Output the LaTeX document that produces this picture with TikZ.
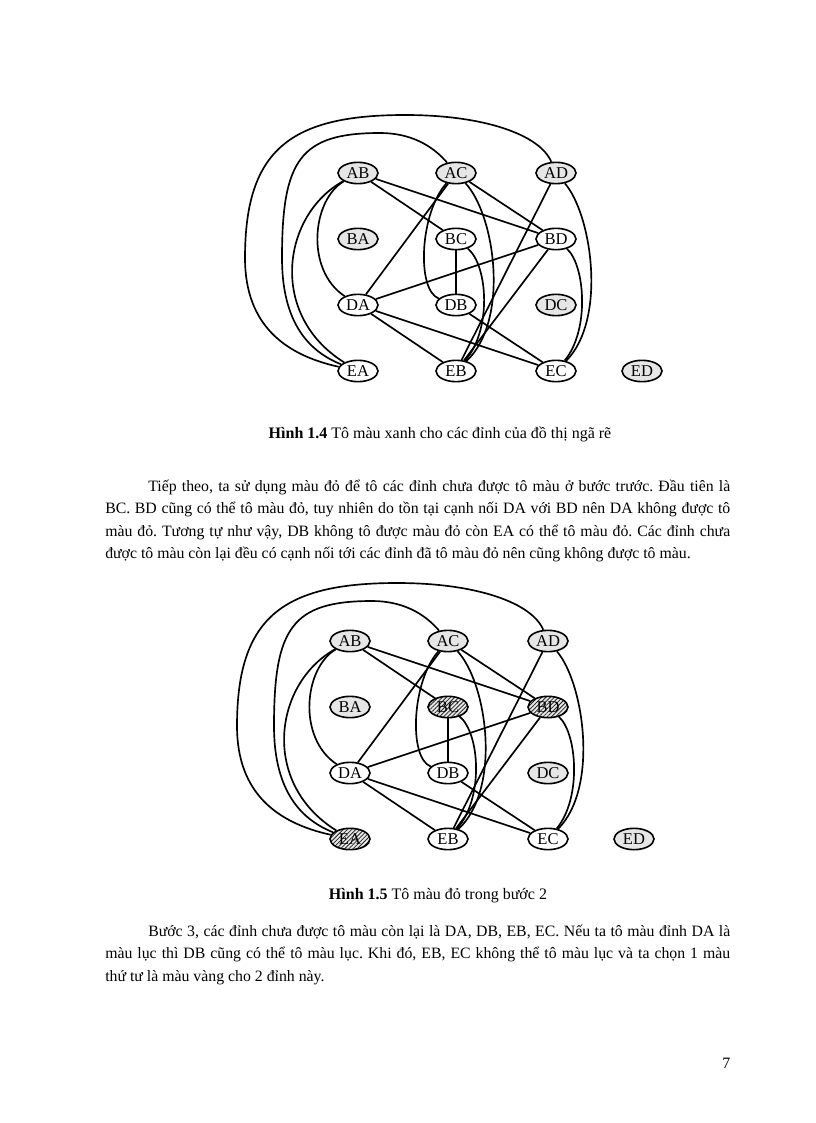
\documentclass[tikz,border=0pt]{standalone}
\usepackage{fontspec}
\setmainfont{Liberation Serif}
\usetikzlibrary{shapes.geometric,patterns.meta}
\definecolor{nodegray}{RGB}{230,230,230}
\frenchspacing
\tikzset{
  vbase/.style={ellipse, draw=black, line width=1.2pt, minimum width=30pt, minimum height=16pt, inner sep=0pt, font=\fontsize{12.4pt}{14pt}\selectfont},
  wvtx/.style={vbase, fill=white},
  gvtx/.style={vbase, fill=nodegray},
  hvtx/.style={vbase, preaction={fill=nodegray}, pattern={Lines[angle=45,distance=2.2pt,line width=0.6pt]}, pattern color=black!85},
  edge/.style={line width=1.25pt, draw=black},
  bodytxt/.style={inner sep=0pt, anchor=base west, font=\fontsize{11.85pt}{16pt}\selectfont\frenchspacing},
  captxt/.style={inner sep=0pt, anchor=base, font=\fontsize{12pt}{14pt}\selectfont},
}
\newcommand{\TurnGraph}[4]{%
  \node[gvtx] (#1AB) at (358,173) {AB};
  \node[gvtx] (#1AC) at (456,173) {AC};
  \node[gvtx] (#1AD) at (556,173) {AD};
  \node[gvtx] (#1BA) at (358,239) {BA};
  \node[#2]   (#1BC) at (456,239) {BC};
  \node[#3]   (#1BD) at (556,239) {BD};
  \node[wvtx] (#1DA) at (358,305) {DA};
  \node[wvtx] (#1DB) at (456,305) {DB};
  \node[gvtx] (#1DC) at (556,305) {DC};
  \node[#4]   (#1EA) at (358,371) {EA};
  \node[wvtx] (#1EB) at (456,371) {EB};
  \node[wvtx] (#1EC) at (556,371) {EC};
  \node[gvtx] (#1ED) at (642,371) {ED};
  \draw[edge] (#1AB) -- (#1BC);
  \draw[edge] (#1AB) -- (#1BD);
  \draw[edge] (#1AC) -- (#1BD);
  \draw[edge] (#1AC) -- (#1DA);
  \draw[edge] (#1BC) -- (#1DB);
  \draw[edge] (#1BD) -- (#1DA);
  \draw[edge] (#1BD) -- (#1EB);
  \draw[edge] (#1AD) -- (#1EB);
  \draw[edge] (#1DA) -- (#1EB);
  \draw[edge] (#1DA) -- (#1EC);
  \draw[edge] (#1DB) -- (#1EC);
  \draw[edge] (#1EA) .. controls (285,355) and (245,325) .. (245,258) .. controls (245,150) and (290,115) .. (405,115) .. controls (485,115) and (540,135) .. (#1AD);
  \draw[edge] (#1EA) .. controls (305,350) and (282,318) .. (282,258) .. controls (282,160) and (300,133) .. (380,133) .. controls (410,133) and (432,145) .. (#1AC);
  \draw[edge] (#1AB) .. controls (282,215) and (268,315) .. (#1EA);
  \draw[edge] (#1AB) .. controls (312,200) and (305,270) .. (#1DA);
  \draw[edge] (#1AC) .. controls (420,212) and (416,290) .. (#1DB);
  \draw[edge] (#1AC) .. controls (495,215) and (510,320) .. (#1EB);
  \draw[edge] (#1BC) .. controls (488,265) and (492,330) .. (#1EB);
  \draw[edge] (#1AD) .. controls (592,215) and (607,320) .. (#1EC);
  \draw[edge] (#1BD) .. controls (585,265) and (590,330) .. (#1EC);
}
\begin{document}
\begin{tikzpicture}[x=0.75pt, y=-0.75pt]
  \useasboundingbox[fill=white] (0,0) rectangle (816,1123);
  % Figure 1.4
  \TurnGraph{p}{wvtx}{wvtx}{wvtx}
  \node[captxt] (cap1) at (440,438) {\textbf{Hình 1.4} Tô màu xanh cho các đỉnh của đồ thị ngã rẽ};
  \node[bodytxt] (pa1) at (148,491) {\makebox[436.5pt][s]{Tiếp theo, ta sử dụng màu đỏ để tô các đỉnh chưa được tô màu ở bước trước. Đầu tiên là}};
  \node[bodytxt] (pa2) at (105,513.5) {\makebox[468.75pt][s]{BC. BD cũng có thể tô màu đỏ, tuy nhiên do tồn tại cạnh nối DA với BD nên DA không được tô}};
  \node[bodytxt] (pa3) at (105,536) {\makebox[468.75pt][s]{màu đỏ. Tương tự như vậy, DB không tô được màu đỏ còn EA có thể tô màu đỏ. Các đỉnh chưa}};
  \node[bodytxt] (pa4) at (105,558.5) {được tô màu còn lại đều có cạnh nối tới các đỉnh đã tô màu đỏ nên cũng không được tô màu.};
  % Figure 1.5
  \begin{scope}[shift={(-8,468)}]
    \TurnGraph{q}{hvtx}{hvtx}{hvtx}
  \end{scope}
  \node[captxt] (cap2) at (438,899) {\textbf{Hình 1.5} Tô màu đỏ trong bước 2};
  \node[bodytxt] (pb1) at (148,936) {\makebox[436.5pt][s]{Bước 3, các đỉnh chưa được tô màu còn lại là DA, DB, EB, EC. Nếu ta tô màu đỉnh DA là}};
  \node[bodytxt] (pb2) at (105,958.5) {\makebox[468.75pt][s]{màu lục thì DB cũng có thể tô màu lục. Khi đó, EB, EC không thể tô màu lục và ta chọn 1 màu}};
  \node[bodytxt] (pb3) at (105,981) {thứ tư là màu vàng cho 2 đỉnh này.};
  \node[bodytxt] (pgno) at (722,1068) {7};
\end{tikzpicture}
\end{document}
